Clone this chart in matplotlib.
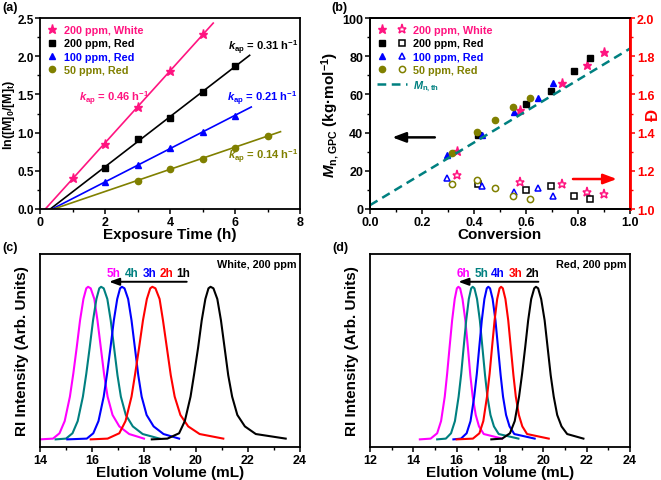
import numpy as np
import matplotlib
matplotlib.use('Agg')
from matplotlib import pyplot as plt
from matplotlib.legend_handler import HandlerTuple
from matplotlib.ticker import MultipleLocator, NullLocator

plt.rcParams['font.family'] = 'Liberation Sans'
plt.rcParams['font.weight'] = 'bold'
plt.rcParams['axes.labelweight'] = 'bold'
plt.rcParams['mathtext.fontset'] = 'custom'
plt.rcParams['mathtext.rm'] = 'Liberation Sans:bold'
plt.rcParams['mathtext.it'] = 'Liberation Sans:bold:italic'
plt.rcParams['mathtext.bf'] = 'Liberation Sans:bold'
plt.rcParams['mathtext.default'] = 'regular'
plt.rcParams['axes.linewidth'] = 1.3
plt.rcParams['xtick.direction'] = 'out'
plt.rcParams['ytick.direction'] = 'out'
plt.rcParams['xtick.major.size'] = 3.5
plt.rcParams['ytick.major.size'] = 3.5
plt.rcParams['xtick.minor.size'] = 2
plt.rcParams['ytick.minor.size'] = 2
plt.rcParams['xtick.major.width'] = 1.1
plt.rcParams['ytick.major.width'] = 1.1
plt.rcParams['xtick.minor.width'] = 1.0
plt.rcParams['ytick.minor.width'] = 1.0

PINK = '#FF1480'
OLIVE = '#808000'
TEAL = '#008080'

# ---- (a) kinetics ----
kin_labels = ['200 ppm, White', '200 ppm, Red', '100 ppm, Red', '50 ppm, Red']
kin_colors = [PINK, 'black', '#0000FF', OLIVE]
kin_markers = ['*', 's', '^', 'o']
kin_x = [[1, 2, 3, 4, 5], [2, 3, 4, 5, 6], [2, 3, 4, 5, 6], [3, 4, 5, 6, 7]]
kin_y = [[0.41, 0.85, 1.33, 1.80, 2.29],
         [0.54, 0.91, 1.19, 1.53, 1.87],
         [0.35, 0.57, 0.80, 1.01, 1.22],
         [0.37, 0.53, 0.66, 0.80, 0.96]]
fit_end = [5.33, 6.45, 6.5, 7.4]
kap_text = ['0.46', '0.31', '0.21', '0.14']
kap_pos = [(1.2, 1.45), (5.8, 2.12), (5.75, 1.45), (5.8, 0.70)]

# ---- (b) Mn and dispersity vs conversion ----
conv = [[0.335, 0.575, 0.74, 0.835, 0.90],
        [0.415, 0.60, 0.695, 0.785, 0.848],
        [0.295, 0.43, 0.555, 0.645, 0.705],
        [0.315, 0.41, 0.48, 0.55, 0.615]]
mn_gpc = [[30.5, 52, 66, 75.5, 82],
          [39, 55, 62, 72, 79],
          [28.5, 39, 51, 58, 66],
          [29.5, 40.5, 46.5, 53.5, 58]]
disp = [[1.18, 1.14, 1.13, 1.09, 1.08],
        [1.13, 1.10, 1.12, 1.07, 1.05],
        [1.16, 1.12, 1.09, 1.11, 1.07],
        [1.13, 1.15, 1.11, 1.07, 1.05]]
mn_th_x = [0.0, 1.0]
mn_th_y = [2.0, 84.0]

# ---- (c) GPC, white light, 200 ppm ----
gpc_colors = ['#FF00FF', TEAL, '#0000FF', '#FF0000', 'black']
h_c = [0.0, 0.005, 0.04, 0.12, 0.28, 0.43, 0.60, 0.78, 0.92, 0.99, 1.0,
       0.99, 0.92, 0.78, 0.60, 0.42, 0.28, 0.16, 0.085, 0.035, 0.005]
white_v = [
    [14.0, 14.5, 14.75, 14.95, 15.15, 15.28, 15.41, 15.54, 15.67, 15.78, 15.85,
     15.95, 16.09, 16.21, 16.34, 16.47, 16.6, 16.79, 17.05, 17.43, 18.0],
    [14.6, 15.0, 15.25, 15.45, 15.65, 15.78, 15.91, 16.04, 16.17, 16.28, 16.35,
     16.45, 16.59, 16.72, 16.85, 16.98, 17.11, 17.3, 17.57, 17.95, 18.6],
    [15.05, 15.8, 16.05, 16.25, 16.45, 16.58, 16.71, 16.84, 16.97, 17.08, 17.15,
     17.25, 17.39, 17.52, 17.65, 17.78, 17.91, 18.1, 18.37, 18.75, 19.35],
    [15.95, 16.6, 17.05, 17.29, 17.52, 17.66, 17.81, 17.96, 18.11, 18.24, 18.32,
     18.44, 18.6, 18.73, 18.88, 19.03, 19.18, 19.4, 19.7, 20.14, 21.05],
    [18.3, 18.9, 19.35, 19.57, 19.79, 19.93, 20.08, 20.22, 20.36, 20.48, 20.56,
     20.67, 20.82, 20.96, 21.1, 21.24, 21.39, 21.59, 21.88, 22.3, 23.45],
]
white_times = ['5h', '4h', '3h', '2h', '1h']

# ---- (d) GPC, red light, 200 ppm ----
red_v = [
    [14.3, 14.8, 15.1, 15.28, 15.45, 15.56, 15.67, 15.79, 15.91, 16.01, 16.08,
     16.16, 16.27, 16.4, 16.52, 16.63, 16.74, 16.88, 17.03, 17.25, 18.1],
    [15.1, 15.5, 15.74, 15.92, 16.09, 16.21, 16.32, 16.44, 16.56, 16.67, 16.74,
     16.82, 16.94, 17.07, 17.19, 17.31, 17.42, 17.56, 17.72, 17.94, 18.85],
    [15.85, 16.2, 16.46, 16.64, 16.81, 16.93, 17.04, 17.16, 17.28, 17.39, 17.46,
     17.54, 17.66, 17.79, 17.91, 18.03, 18.14, 18.28, 18.44, 18.66, 19.6],
    [16.0, 16.75, 17.05, 17.23, 17.4, 17.52, 17.63, 17.75, 17.87, 17.98, 18.05,
     18.13, 18.25, 18.38, 18.5, 18.62, 18.73, 18.87, 19.03, 19.25, 20.25],
    [17.6, 18.1, 18.46, 18.68, 18.88, 19.02, 19.16, 19.3, 19.44, 19.58, 19.66,
     19.76, 19.9, 20.06, 20.2, 20.34, 20.48, 20.64, 20.84, 21.1, 21.85],
]
red_times = ['6h', '5h', '4h', '3h', '2h']

fig = plt.figure(figsize=(6.61, 4.81), dpi=100)
W, H = 661, 481


def axes_px(l, t, r, b):
    return fig.add_axes([l / W, 1 - b / H, (r - l) / W, (b - t) / H])


ax_a = axes_px(40, 19, 300, 210)
ax_b = axes_px(370, 19, 630, 210)
ax_c = axes_px(40, 255, 300, 448)
ax_d = axes_px(370, 255, 630, 448)

tick_fs = 9
lab_fs = 11
leg_fs = 7.8


def msize(mk):
    return 6.5 if mk == '*' else 4.5


# ---------- (a) ----------
for i in range(4):
    x = np.array(kin_x[i])
    y = np.array(kin_y[i])
    m, b = np.polyfit(x, y, 1)
    xs = np.array([-b / m, fit_end[i]])
    ax_a.plot(xs, m * xs + b, color=kin_colors[i], lw=1.2)
    ax_a.plot(x, y, kin_markers[i], color=kin_colors[i], ms=msize(kin_markers[i]),
              label=kin_labels[i])
    ax_a.text(kap_pos[i][0], kap_pos[i][1],
              r'$\mathit{k}_{ap}$ = ' + kap_text[i] + ' h$^{-1}$',
              color=kin_colors[i], fontsize=8, ha='left', va='center')

ax_a.set_xlim(0, 8)
ax_a.set_ylim(0, 2.5)
ax_a.xaxis.set_major_locator(MultipleLocator(2))
ax_a.xaxis.set_minor_locator(MultipleLocator(1))
ax_a.yaxis.set_major_locator(MultipleLocator(0.5))
ax_a.yaxis.set_minor_locator(MultipleLocator(0.25))
ax_a.tick_params(labelsize=tick_fs, pad=1.5)
ax_a.tick_params(axis='y', labelsize=8.5, pad=1)
ax_a.set_xlabel('Exposure Time (h)', fontsize=lab_fs, labelpad=-1)
ax_a.set_ylabel('ln([M]$_0$/[M]$_t$)', fontsize=9)
ax_a.yaxis.set_label_coords(-0.088, 0.5)
leg = ax_a.legend(loc='upper left', frameon=False, fontsize=leg_fs, numpoints=1,
                  handlelength=1.0, handletextpad=0.6, labelspacing=0.3,
                  borderaxespad=0.25)
for t, c in zip(leg.get_texts(), kin_colors):
    t.set_color(c)

# ---------- (b) ----------
ax_b2 = ax_b.twinx()
handles = []
for i in range(4):
    ms = msize(kin_markers[i])
    h1, = ax_b.plot(conv[i], mn_gpc[i], kin_markers[i], color=kin_colors[i], ms=ms)
    h2, = ax_b2.plot(conv[i], disp[i], kin_markers[i], mfc='white',
                     mec=kin_colors[i], mew=1.1, ms=ms)
    handles.append((h1, h2))
th, = ax_b.plot(mn_th_x, mn_th_y, color=TEAL, lw=1.8, dashes=(3.5, 2.2))
handles.append(th)
labels = kin_labels + [r'$\mathit{M}_{n,th}$']
leg = ax_b.legend(handles, labels, loc='upper left', frameon=False, fontsize=leg_fs,
                  handler_map={tuple: HandlerTuple(ndivide=None, pad=1.0)},
                  handlelength=2.8, handletextpad=0.5, labelspacing=0.3,
                  borderaxespad=0.25)
for t, c in zip(leg.get_texts(), kin_colors + [TEAL]):
    t.set_color(c)

ax_b.annotate('', xy=(0.075, 37.5), xytext=(0.26, 37.5),
              arrowprops=dict(arrowstyle='-|>,head_length=0.8,head_width=0.3',
                              color='black', lw=1.8))
ax_b2.annotate('', xy=(0.96, 1.157), xytext=(0.77, 1.157),
               arrowprops=dict(arrowstyle='-|>,head_length=0.8,head_width=0.3',
                               color='#FF0000', lw=1.8))

ax_b.set_xlim(0, 1)
ax_b.set_ylim(0, 100)
ax_b2.set_ylim(1.0, 2.0)
ax_b.xaxis.set_major_locator(MultipleLocator(0.2))
ax_b.xaxis.set_minor_locator(MultipleLocator(0.1))
ax_b.yaxis.set_major_locator(MultipleLocator(20))
ax_b.yaxis.set_minor_locator(MultipleLocator(10))
ax_b2.yaxis.set_major_locator(MultipleLocator(0.2))
ax_b2.yaxis.set_minor_locator(MultipleLocator(0.1))
ax_b.tick_params(labelsize=tick_fs, pad=1.5)
ax_b2.tick_params(labelsize=tick_fs, pad=1.5, colors='#FF0000', which='both')
ax_b2.spines['right'].set_color('#FF0000')
ax_b2.spines['right'].set_linewidth(2.0)
ax_b.set_xlabel('Conversion', fontsize=lab_fs, labelpad=-1)
ax_b.set_ylabel(r'$\mathit{M}_{n,GPC}$ (kg·mol$^{-1}$)', fontsize=lab_fs, labelpad=1)
ax_b2.set_ylabel('Đ', fontsize=lab_fs + 1, color='#FF0000')
ax_b2.yaxis.set_label_coords(1.06, 0.5)


# ---------- (c) and (d) ----------
def gpc_panel(ax, curves, times, xlim, note, arrow_x, time_x):
    for v, c in zip(curves, gpc_colors):
        ax.plot(v, h_c, color=c, lw=1.5)
    ax.set_xlim(*xlim)
    ax.set_ylim(-0.05, 1.215)
    ax.xaxis.set_major_locator(MultipleLocator(2))
    ax.xaxis.set_minor_locator(MultipleLocator(1))
    ax.yaxis.set_major_locator(NullLocator())
    ax.tick_params(labelsize=tick_fs, pad=1.5)
    ax.set_xlabel('Elution Volume (mL)', fontsize=lab_fs, labelpad=-1)
    ax.set_ylabel('RI Intensity (Arb. Units)', fontsize=lab_fs, labelpad=8)
    ax.text(0.985, 0.95, note, transform=ax.transAxes, ha='right', va='center',
            fontsize=7.8)
    ax.annotate('', xy=(arrow_x[1], 1.033), xytext=(arrow_x[0], 1.033),
                arrowprops=dict(arrowstyle='-|>,head_length=0.6,head_width=0.22',
                                color='black', lw=1.4))
    for t, x, c in zip(times, time_x, gpc_colors):
        ax.text(x, 1.09, t, color=c, fontsize=8.5, ha='center', va='center')


gpc_panel(ax_c, white_v, white_times, (14, 24), 'White, 200 ppm',
          (19.75, 16.55), [16.82, 17.53, 18.23, 18.87, 19.49])
gpc_panel(ax_d, red_v, red_times, (12, 24), 'Red, 200 ppm',
          (19.9, 15.95), [16.31, 17.15, 17.89, 18.74, 19.5])

for lab, x, y in [('(a)', 2, 8), ('(b)', 331, 8), ('(c)', 2, 248), ('(d)', 332, 248)]:
    fig.text(x / W, 1 - y / H, lab, fontsize=9, ha='left', va='center')

plt.savefig('out.png', dpi=100)
